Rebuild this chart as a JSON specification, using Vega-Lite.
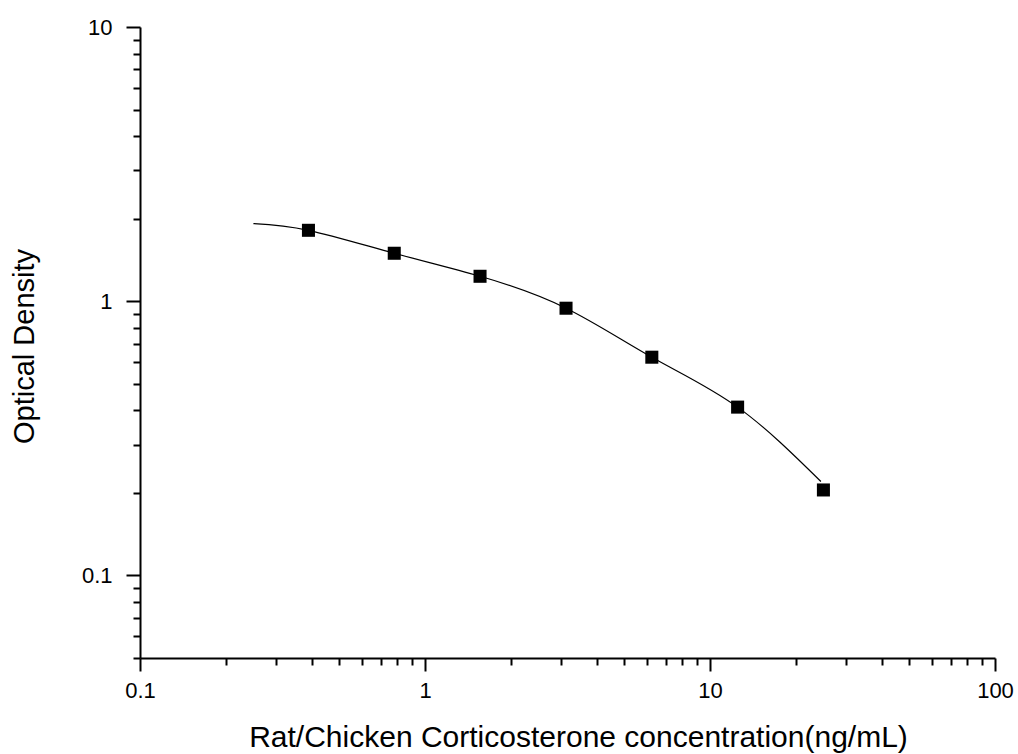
{
  "$schema": "https://vega.github.io/schema/vega-lite/v6.json",
  "width": 855,
  "height": 631,
  "autosize": "none",
  "padding": {"left": 140, "top": 27, "right": 23, "bottom": 96},
  "background": "white",
  "config": {
    "view": {"stroke": null},
    "axis": {
      "grid": false,
      "domainColor": "black",
      "tickColor": "black",
      "domainWidth": 2,
      "tickWidth": 2,
      "labelFont": "Liberation Sans",
      "titleFont": "Liberation Sans",
      "labelColor": "black",
      "titleColor": "black",
      "titleFontWeight": "normal",
      "labelFlush": false,
      "labelOverlap": false,
      "labelBound": false
    }
  },
  "datasets": {
    "points": [
      {"conc": 0.39, "od": 1.814},
      {"conc": 0.78, "od": 1.496},
      {"conc": 1.56, "od": 1.233},
      {"conc": 3.125, "od": 0.943},
      {"conc": 6.25, "od": 0.625},
      {"conc": 12.5, "od": 0.411},
      {"conc": 25, "od": 0.205}
    ],
    "curve": [
      {"conc": 0.25, "od": 1.92},
      {"conc": 0.39, "od": 1.814},
      {"conc": 0.78, "od": 1.496},
      {"conc": 1.56, "od": 1.233},
      {"conc": 3.125, "od": 0.943},
      {"conc": 6.25, "od": 0.625},
      {"conc": 12.5, "od": 0.411},
      {"conc": 24.5, "od": 0.22}
    ]
  },
  "encoding": {
    "x": {
      "field": "conc",
      "type": "quantitative",
      "scale": {"type": "log", "domain": [0.1, 100], "nice": false},
      "axis": {
        "values": [0.1, 0.2, 0.3, 0.4, 0.5, 0.6, 0.7, 0.8, 0.9, 1, 2, 3, 4, 5, 6, 7, 8, 9, 10, 20, 30, 40, 50, 60, 70, 80, 90, 100],
        "format": "~g",
        "labelExpr": "(datum.value == 0.1 || datum.value == 1 || datum.value == 10 || datum.value == 100) ? datum.label : ''",
        "tickSize": {"condition": {"test": "datum.value == 0.1 || datum.value == 1 || datum.value == 10 || datum.value == 100", "value": 13}, "value": 7},
        "labelFontSize": 22,
        "labelPadding": 9,
        "title": "Rat/Chicken Corticosterone concentration(ng/mL)",
        "titleFontSize": 30,
        "titleX": 438,
        "titleY": 88,
        "titleAlign": "center",
        "titleBaseline": "alphabetic"
      }
    },
    "y": {
      "field": "od",
      "type": "quantitative",
      "scale": {"type": "log", "domain": [0.05, 10], "nice": false},
      "axis": {
        "values": [0.05, 0.06, 0.07, 0.08, 0.09, 0.1, 0.2, 0.3, 0.4, 0.5, 0.6, 0.7, 0.8, 0.9, 1, 2, 3, 4, 5, 6, 7, 8, 9, 10],
        "format": "~g",
        "labelExpr": "(datum.value == 0.1 || datum.value == 1 || datum.value == 10) ? datum.label : ''",
        "tickSize": {"condition": {"test": "datum.value == 0.1 || datum.value == 1 || datum.value == 10", "value": 14}, "value": 7},
        "labelFontSize": 22,
        "labelPadding": 14,
        "title": "Optical Density",
        "titleFontSize": 29,
        "titleX": -107,
        "titleY": 319,
        "titleAlign": "center",
        "titleBaseline": "alphabetic"
      }
    }
  },
  "layer": [
    {
      "data": {"name": "curve"},
      "mark": {"type": "line", "color": "black", "strokeWidth": 1.2, "interpolate": "natural"}
    },
    {
      "data": {"name": "points"},
      "mark": {"type": "square", "size": 170, "color": "black", "opacity": 1, "filled": true}
    }
  ]
}
